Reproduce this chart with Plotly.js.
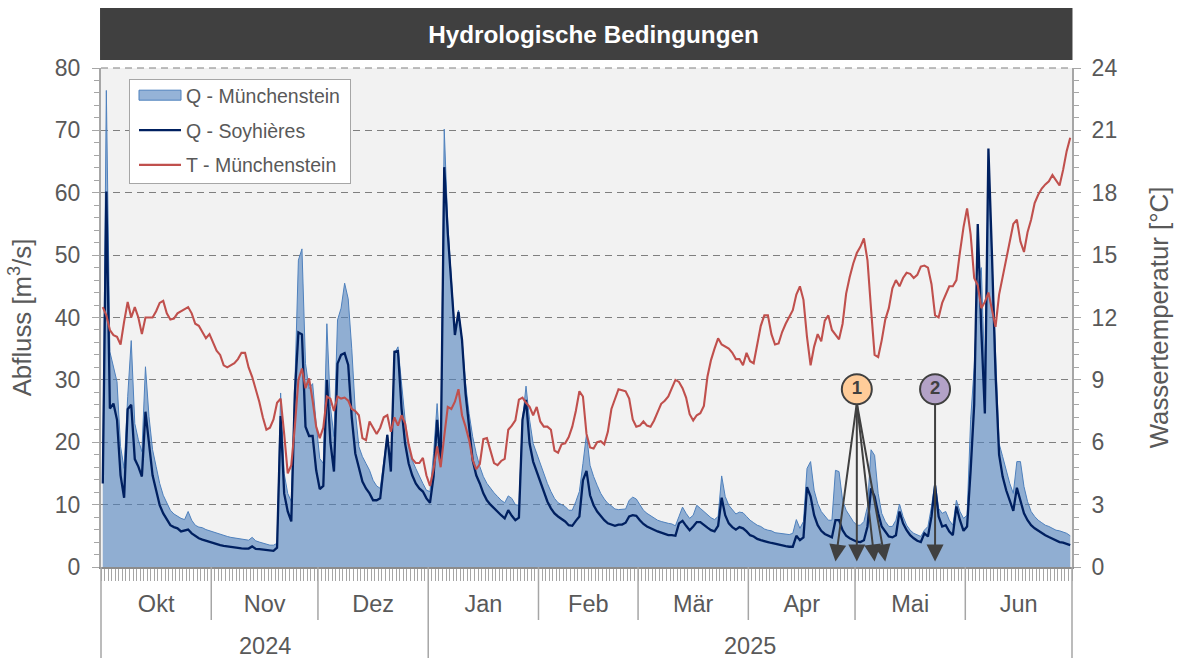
<!DOCTYPE html>
<html>
<head>
<meta charset="utf-8">
<script src="https://cdn.plot.ly/plotly-3.0.1.min.js"></script>
<style>html,body{margin:0;padding:0;background:#fff}</style>
</head>
<body>
<div id="chart" style="width:1179px;height:658px"></div>
<script>
const monthNames = ['Okt','Nov','Dez','Jan','Feb','Mär','Apr','Mai','Jun'];
const monthDays = [31,30,31,31,28,31,30,31,30];
const years = ['2024','2025'];
const yearMonths = [3,6];

const qMuenchenstein = [
 15,76.4,34.5,32.1,29.7,19.3,15.8,27.3,36.3,23,20.4,18.5,32.1,24.1,18.8,16.1,13.4,11.5,10.2,9.1,8.5,8.1,7.8,7.6,8.9,7.5,6.7,6.4,6.3,6,5.8,
 5.6,5.4,5.2,5.1,4.9,4.75,4.65,4.55,4.4,4.3,4.3,4.75,4.2,4,3.8,3.6,3.5,3.5,3.8,27.9,15,11.8,10.5,29,49.2,51,32.6,28.6,29.4,23,
 17.4,16.6,39,25.7,20.9,39.6,41.5,45.5,43,35,25,19.3,17.7,16.6,15.5,13.9,13,12.6,16.6,21.2,16.6,34.2,35.3,28.9,23.6,19.3,17.1,15.8,14.5,13.4,12.3,
 12.1,18.2,26.2,17.5,70.2,55,46,37.5,41.2,36.5,29.4,24.6,20.9,18.2,16.1,14.5,13.4,12.6,11.9,11.3,10.7,10.3,11.4,11,10,9.9,23.6,29,23.6,19.8,18.2,
 16.3,14.7,13.4,12.1,11,10.3,10,9.7,9.1,9.1,10.5,12.1,16.6,21.3,16.3,14.5,13.1,11.8,10.9,10.2,9.8,9.3,9.2,9.2,9.3,10.7,11.2,10.9,
 9.9,9.1,8.6,8.2,7.8,7.5,7.3,7.1,7,6.9,6.6,8.1,9.6,8.6,7.8,8.3,9.9,9.4,8.9,8.3,7.9,7.6,8.1,14.6,11.3,9.9,9.1,8.5,8.8,8.7,8.1,
 7.5,7.1,6.7,6.5,6.1,5.9,5.8,5.5,5.4,5.3,5.2,5.2,5.4,7.6,6.2,7.3,15.8,16.9,12.3,10.2,8.9,8.1,7.5,7.5,15.5,15.3,10.7,9.1,8.1,7.3,
 6.7,6.7,7.3,9.7,18.8,17.9,11.8,8.6,7.3,6.5,6.5,7.5,10.1,8.1,6.7,5.9,5.4,5.1,4.9,5.9,6.5,9.7,13.7,9.4,8.6,8.9,7.5,6.7,10.7,8.9,7.8,
 8.3,23.6,32,45,48,30,64,50,34,19.8,17.7,15.5,13.4,11.8,16.9,16.9,12.9,10.5,8.9,8.1,7.5,7.1,6.7,6.5,6.2,5.9,5.8,5.6,5.4,5
];
const qSoyhieres = [
 13.4,60.2,25.4,26.2,23.6,14.7,11.1,25.3,26,17.3,16.1,14.5,24.9,19.8,14.7,12.3,9.9,8.6,7.6,6.7,6.4,6.2,5.7,5.9,6,5.4,5,4.6,4.4,4.2,4,
 3.85,3.7,3.5,3.4,3.3,3.2,3.1,3.05,3,2.95,2.95,3.3,2.9,2.85,2.8,2.75,2.6,2.6,3.1,24.2,11.8,8.9,7.3,27.8,37.6,37.3,22.5,21,21,15.5,
 12.5,13,30,20,15.3,32.6,34,34.3,32.4,24,18.2,16.1,13.7,12.6,11.8,10.7,10.7,11,16.6,21.2,15.3,34.5,34.6,25.4,19.8,16.6,14.7,13.4,12.6,12.1,11,
 10.3,14.5,23.6,16.5,64.1,53.5,44.9,37.2,40.9,36.4,27.8,22,17.1,14.7,13.4,11.8,10.7,10,9.4,8.9,8.3,7.8,9.1,8.2,7.5,7.9,23.6,26.8,19.8,16.9,15.3,
 13.4,11.8,10.5,9.4,8.6,8.1,7.7,7.3,6.7,6.6,7.4,8.1,13.9,15.4,11.5,9.9,8.9,8.1,7.5,7,6.8,6.6,6.8,6.8,7.1,8.1,8.3,8.2,
 7.5,6.9,6.5,6.2,5.9,5.7,5.5,5.3,5.1,5.1,5,7,7.4,6.6,5.9,6.5,7.2,7.2,6.7,6.3,5.9,5.7,6.6,11.1,8.3,7,6.4,6,6.4,6.2,5.7,
 5.1,4.9,4.5,4.3,4.1,4,3.85,3.7,3.6,3.5,3.35,3.25,3.25,5,4.3,4.75,12.8,11.3,8.3,6.7,5.8,5.3,5,4.75,7.5,7.5,5.9,5,4.6,4.3,
 4.05,4,4.3,6.5,12.6,11.3,8.6,6.5,5.7,4.9,4.75,5.1,8.9,7,5.9,5.1,4.6,4.2,4,5.4,4.9,8.1,13.1,8.1,6.5,6.7,5.7,5.1,9.7,7.5,5.8,
 6.5,15.5,26,55,38,24.6,67.1,50,31,18,14.5,12.3,10.5,9,12.7,10.7,8.6,7.5,6.7,6.2,5.8,5.4,5.1,4.8,4.5,4.3,4,3.9,3.7,3.5
];
const tMuenchenstein = [
 12.5,12.1,11.4,11.15,11.07,10.7,11.8,12.75,12,12.5,12,11.2,12,12,12,12.3,12.7,12.8,12.2,11.9,11.95,12.2,12.3,12.4,12.5,12.2,11.7,11.6,11.3,11,11.2,
 10.8,10.4,10.2,9.7,9.6,9.7,9.8,10,10.3,10.3,9.6,9.15,8.6,7.95,7.2,6.6,6.7,7.1,7.9,8.1,6.4,4.5,4.9,6.75,9,9.55,8.6,9.07,8,6.75,
 6.2,6.7,8.2,8.1,7.5,8.2,8.1,8.15,8,7.6,7.5,7.3,6.2,6.1,7,6.7,6.4,6.7,7.2,7.3,6.5,7.2,6.8,7.3,6.9,5.9,5.2,5,5,5.25,4.4,
 3.9,4.7,5.8,4.8,6.3,7.7,7.6,7.95,8.55,7.3,6.75,6.1,5.15,4.7,4.95,6.15,6.2,5.6,5,4.9,5.1,5.2,6.6,6.8,7.05,8.05,8.15,7.9,7.7,7.3,7.7,
 7,6.75,6.75,6.6,5.6,5.5,5.9,5.95,6.25,6.75,7.5,8.45,8.2,6.4,5.75,5.7,6,6.05,5.9,6.5,7.6,8.1,8.55,8.5,8.45,8.1,7.1,6.75,
 6.8,7,6.8,6.75,7.05,7.45,7.85,8,8.2,8.6,9,8.9,8.6,8.15,7.35,7.05,7.3,7.4,7.75,9.15,9.95,10.5,11,10.7,10.6,10.5,10.3,10,10,9.7,10.3,
 9.9,9.8,10.8,11.6,12.1,12.1,11.2,10.7,10.75,11.3,11.7,12.05,12.35,13.1,13.5,12.85,11.05,9.7,10.6,11.2,10.85,11.85,12.1,11.4,11.15,10.95,11.7,13.15,13.95,14.6,
 15.1,15.4,15.8,14.75,12.4,10.2,10.1,10.9,11.9,12.45,13.4,13.8,13.5,13.9,14.15,14.1,13.9,14.05,14.45,14.5,14.4,13.6,12.1,12,12.7,13.1,13.5,13.5,13.8,15.15,16.35,
 17.25,16,13.9,13.55,12.45,12.75,13.2,12.35,11.55,13.1,13.95,14.75,15.7,16.5,16.7,15.65,15.15,16.1,16.7,17.5,17.9,18.2,18.4,18.55,18.85,18.6,18.35,19.1,20,20.65
];
const eventLabels = ['1','2'];
const eventColors = ['#FFCC99','#B3A2C7'];
const eventMarkerDays = [212,234];
const eventMarkerTemp = [8.55,8.55];
const eventArrowDays = [206,212,217,220,234];
const eventArrowSource = [212,212,212,212,234];

const nDays = qMuenchenstein.length;
const days = qMuenchenstein.map((_,i)=>i+0.5);
const FONT = '"Liberation Sans", Arial, sans-serif';
const GREY = '#595959';
const AXIS = '#a6a6a6';

let edges=[0]; monthDays.forEach(d=>edges.push(edges[edges.length-1]+d));
const monthMid = monthNames.map((_,i)=>(edges[i]+edges[i+1])/2);
const plotH = 499, plotW = 971;

const shapes = [
 {type:'rect',xref:'paper',yref:'paper',x0:-0.001,x1:1.0005,y0:507/plotH,y1:559/plotH,fillcolor:'#404040',line:{width:0},layer:'above'},
 {type:'line',xref:'paper',yref:'paper',x0:0,x1:1,y0:1,y1:1,line:{color:'#7f7f7f',width:1,dash:'7px,5px'},layer:'below'}
];
edges.forEach((e,i)=>{
  const isYear = i===0||i===monthDays.length||i===yearMonths[0];
  shapes.push({type:'line',xref:'paper',yref:'paper',x0:e/nDays,x1:e/nDays,y0:0,y1:-(isYear?91:53)/plotH,line:{color:AXIS,width:1.5}});
});

const annotations = [];
let start=0;
years.forEach((y,i)=>{
  const end=start+monthDays.slice(i===0?0:yearMonths[0],i===0?yearMonths[0]:undefined).reduce((a,b)=>a+b,0);
  annotations.push({xref:'x',yref:'paper',x:(start+end)/2,y:-79/plotH,yanchor:'middle',text:y,showarrow:false,font:{family:FONT,size:23.5,color:GREY}});
  start=end;
});
eventArrowDays.forEach((d,i)=>{
  annotations.push({xref:'x',yref:'y',axref:'x',ayref:'y',x:d+0.5,y:0.9,ax:eventArrowSource[i]+0.5,ay:26.3,text:'',showarrow:true,arrowhead:2,arrowsize:1.7,arrowwidth:2,arrowcolor:'#404040'});
});

const traces = [
 {x:days,y:qMuenchenstein,name:'Q - Münchenstein',type:'scatter',mode:'lines',fill:'tozeroy',fillcolor:'rgba(79,129,189,0.6)',line:{color:'#4F81BD',width:1},legendgroup:'a',hoverinfo:'skip'},
 {x:days,y:qSoyhieres,name:'Q - Soyhières',type:'scatter',mode:'lines',line:{color:'#002060',width:2.3},legendgroup:'b',hoverinfo:'skip'},
 {x:days,y:tMuenchenstein,name:'T - Münchenstein',type:'scatter',mode:'lines',line:{color:'#C0504D',width:2.1},yaxis:'y2',legendgroup:'c',hoverinfo:'skip'},
 {x:eventMarkerDays.map(d=>d+0.5),y:eventMarkerTemp,yaxis:'y2',type:'scatter',mode:'markers+text',showlegend:false,text:eventLabels,textposition:'middle center',textfont:{family:FONT,size:18.5,color:'#404040',weight:'bold'},marker:{size:30,color:eventColors,line:{color:'#404040',width:2}},hoverinfo:'skip'}
];

const layout = {
 width:1179,height:658,
 margin:{l:101,r:107,t:68,b:91,pad:0},
 paper_bgcolor:'#fff',plot_bgcolor:'#f2f2f2',
 font:{family:FONT,color:GREY},
 title:{text:'<b>Hydrologische Bedingungen</b>',x:593.5/1179,xanchor:'center',xref:'container',y:1-34/658,yanchor:'middle',font:{family:FONT,size:24.3,color:'#fff'}},
 showlegend:true,
 legend:{x:28/plotW,y:(567-75)/plotH,xanchor:'left',yanchor:'top',bgcolor:'#fff',bordercolor:AXIS,borderwidth:1,font:{family:FONT,size:19.5,color:GREY},itemwidth:46,entrywidth:170,entrywidthmode:'pixels',tracegroupgap:6.5,traceorder:'grouped'},
 xaxis:{range:[0,nDays],showgrid:false,zeroline:false,showline:true,linecolor:'#8c8c8c',linewidth:2,
   tickmode:'array',tickvals:monthMid,ticktext:monthNames,ticks:'outside',ticklen:15,tickcolor:'rgba(0,0,0,0)',tickwidth:1,tickangle:0,
   tickfont:{family:FONT,size:23.5,color:GREY},
   minor:{tickmode:'linear',tick0:0,dtick:1,ticks:'outside',ticklen:12,tickcolor:AXIS,tickwidth:1,showgrid:false}},
 yaxis:{range:[0,80],tickmode:'linear',tick0:0,dtick:10,showgrid:true,gridcolor:'#7f7f7f',griddash:'7px,5px',gridwidth:1,zeroline:false,showline:true,linecolor:AXIS,linewidth:2,
   ticks:'outside',ticklen:7,tickcolor:AXIS,ticklabelstandoff:7,tickfont:{family:FONT,size:23,color:GREY},
   minor:{tickmode:'linear',tick0:0,dtick:2,ticks:'outside',ticklen:5,tickcolor:AXIS,showgrid:false},
   title:{text:'Abfluss [m<sup>3</sup>/s]',font:{family:FONT,size:25.8,color:GREY},standoff:16}},
 yaxis2:{range:[0,24],overlaying:'y',side:'right',tickmode:'linear',tick0:0,dtick:3,showgrid:false,zeroline:false,showline:true,linecolor:AXIS,linewidth:2,
   ticks:'outside',ticklen:7,tickcolor:AXIS,ticklabelstandoff:6,tickfont:{family:FONT,size:23,color:GREY},
   minor:{tickmode:'linear',tick0:0,dtick:0.6,ticks:'outside',ticklen:5,tickcolor:AXIS,showgrid:false},
   title:{text:'Wassertemperatur [°C]',font:{family:FONT,size:25.8,color:GREY},standoff:34}},
 shapes,annotations
};
Plotly.newPlot('chart',traces,layout,{displayModeBar:false,staticPlot:true}).then(()=>{
  // legend swatches: wide outlined box and fixed-length lines, box trimmed around the rows
  document.querySelectorAll('.legendfill path').forEach(p=>p.setAttribute('d','M9,-5h42v10h-42z'));
  document.querySelectorAll('.legendlines path').forEach((p,i)=>p.setAttribute('d',i===0?'M9,-5h42v10h-42z':'M9,0h42'));
  const bg=document.querySelector('.legend rect.bg');
  if(bg){bg.setAttribute('y',4);bg.setAttribute('height',104);bg.setAttribute('width',221);}
});
</script>
</body>
</html>
